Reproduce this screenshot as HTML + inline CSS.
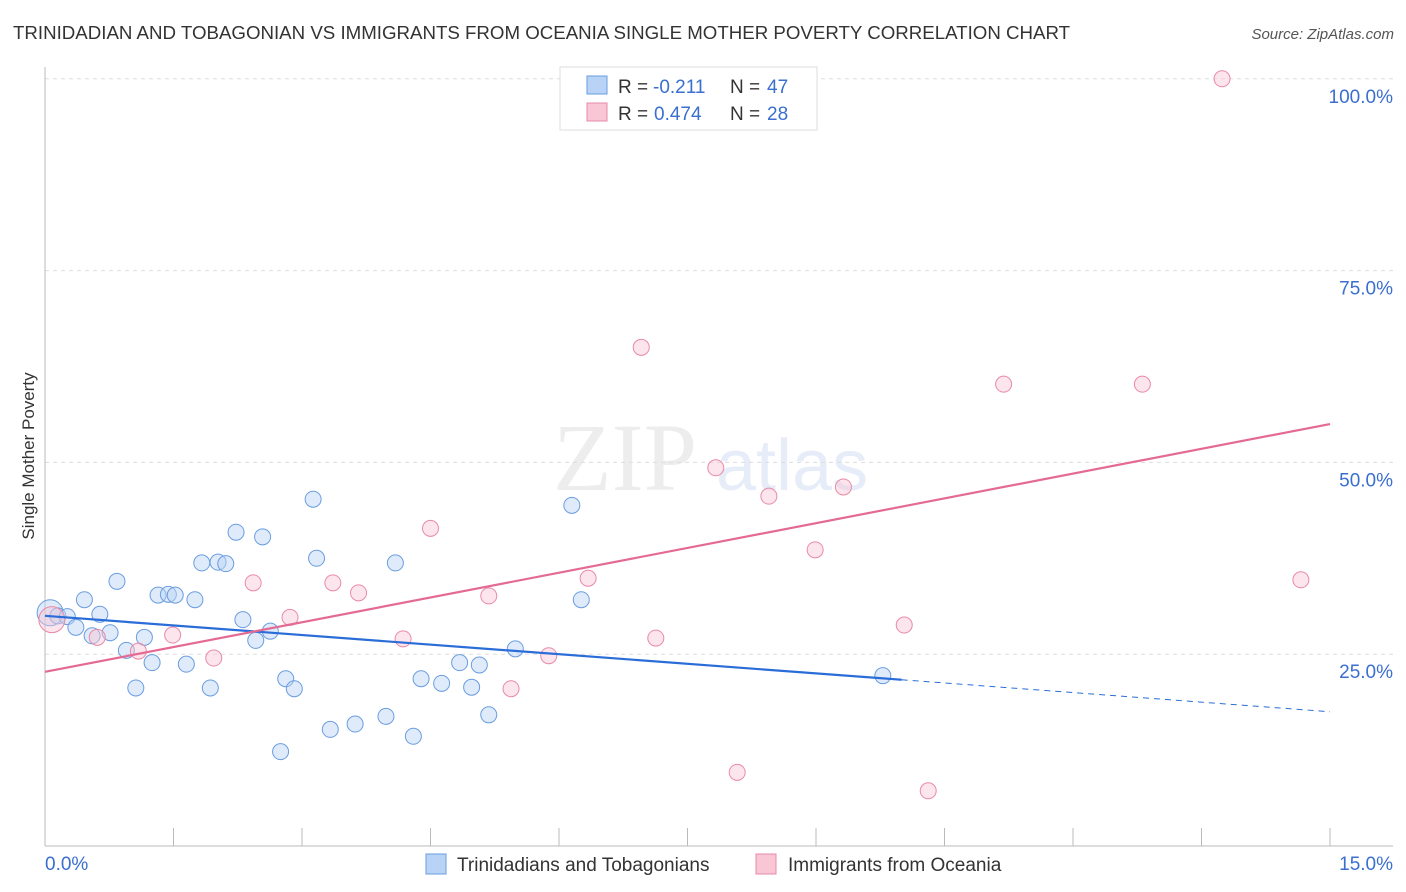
<!DOCTYPE html>
<html><head><meta charset="utf-8"><style>
body{margin:0;background:#fff;font-family:"Liberation Sans",sans-serif;}
svg{display:block}
</style></head><body>
<svg id="c" width="1406" height="892" viewBox="0 0 1406 892" xmlns="http://www.w3.org/2000/svg">
<text x="13" y="39" font-size="18.7" fill="#333">TRINIDADIAN AND TOBAGONIAN VS IMMIGRANTS FROM OCEANIA SINGLE MOTHER POVERTY CORRELATION CHART</text>
<text x="1394" y="39" font-size="15" fill="#555" text-anchor="end" font-style="italic">Source: ZipAtlas.com</text>
<g opacity="0.25">
<text x="553" y="490" font-size="96" font-family="Liberation Serif,serif" fill="#bbb">ZIP</text>
<text x="716" y="490" font-size="72" fill="#9dbbe8">atlas</text>
</g>
<g id="grid"></g>
<g id="axes"></g>
<g id="marks"></g>
<text transform="translate(34,456) rotate(-90)" font-size="17" fill="#333" text-anchor="middle">Single Mother Poverty</text>
<g>
<rect x="560" y="67" width="257" height="63" fill="#fff" stroke="#ddd"/>
<rect x="587" y="76" width="20" height="18" fill="#b8d3f5" stroke="#6a9de0"/>
<rect x="587" y="103" width="20" height="18" fill="#f9c6d5" stroke="#e88aa8"/>
<text x="618" y="93" font-size="19" fill="#333">R =</text>
<text x="653" y="93" font-size="19" fill="#3a6fd0">-0.211</text>
<text x="730" y="93" font-size="19" fill="#333">N =</text>
<text x="767" y="93" font-size="19" fill="#3a6fd0">47</text>
<text x="618" y="120" font-size="19" fill="#333">R =</text>
<text x="654" y="120" font-size="19" fill="#3a6fd0">0.474</text>
<text x="730" y="120" font-size="19" fill="#333">N =</text>
<text x="767" y="120" font-size="19" fill="#3a6fd0">28</text>
</g>
<g>
<rect x="426" y="854" width="20" height="20" fill="#b8d3f5" stroke="#6a9de0"/>
<text x="457" y="871" font-size="19" fill="#333">Trinidadians and Tobagonians</text>
<rect x="756" y="854" width="20" height="20" fill="#f9c6d5" stroke="#e88aa8"/>
<text x="788" y="871" font-size="19" fill="#333">Immigrants from Oceania</text>
</g>
</svg>
<script>
const xTicks=[0,1.5,3,4.5,6,7.5,9,10.5,12,13.5,15];
const yTicks=[25,50,75,100];
const yTickLabels=["25.0%","50.0%","75.0%","100.0%"];
const blueX=[0.06,0.15,0.26,0.36,0.46,0.55,0.64,0.76,0.84,0.95,1.06,1.16,1.25,1.32,1.44,1.52,1.65,1.75,1.83,1.93,2.02,2.11,2.23,2.31,2.46,2.54,2.63,2.81,2.75,2.91,3.13,3.17,3.33,3.62,3.98,4.09,4.30,4.39,4.63,4.84,4.98,5.07,5.18,5.49,6.15,6.26,9.78];
const blueY=[30.4,30.0,29.9,28.5,32.1,27.4,30.2,27.8,34.5,25.5,20.6,27.2,23.9,32.7,32.8,32.7,23.7,32.1,36.9,20.6,37.0,36.8,40.9,29.5,26.8,40.3,28.0,21.8,12.3,20.5,45.2,37.5,15.2,15.9,16.9,36.9,14.3,21.8,21.2,23.9,20.7,23.6,17.1,25.7,44.4,32.1,22.2];
const pinkX=[0.08,0.61,1.09,1.49,1.97,2.43,2.86,3.36,3.66,4.18,4.50,5.18,5.44,5.88,6.34,6.96,7.13,7.83,8.08,8.45,8.99,9.32,10.03,10.31,11.19,12.81,13.74,14.66];
const pinkY=[29.5,27.2,25.4,27.5,24.5,34.3,29.8,34.3,33.0,27.0,41.4,32.6,20.5,24.8,34.9,65.0,27.1,49.3,9.6,45.6,38.6,46.8,28.8,7.2,60.2,60.2,100.0,34.7];
const blueTrend=[30.0,17.5];
const blueSolidEnd=10.0;
const pinkTrend=[22.7,55.0];
const X=v=>45+v*(1285/15);
const Y=v=>846-v*7.672;
const NS="http://www.w3.org/2000/svg";
function mk(t,a,p){const e=document.createElementNS(NS,t);for(const k in a)e.setAttribute(k,a[k]);p.appendChild(e);return e;}
const grid=document.getElementById('grid'),axes=document.getElementById('axes'),marks=document.getElementById('marks');
yTicks.forEach((t,i)=>{
 const l=mk('line',{x1:45,x2:1393,y1:Y(t),y2:Y(t),stroke:'#ddd','stroke-dasharray':'4 4'},grid);
 
 
 const tx=mk('text',{x:1393,y:Y(t)+24,'font-size':19,fill:'#3a6fd0','text-anchor':'end'},axes);
 tx.textContent=yTickLabels[i];
 
 
});
let a=mk('line',{x1:45,x2:45,y1:67,y2:846,stroke:'#bbb'},axes);


a=mk('line',{x1:45,x2:1393,y1:846,y2:846,stroke:'#bbb'},axes);


xTicks.forEach(t=>{
 const l=mk('line',{x1:X(t),x2:X(t),y1:828,y2:846,stroke:'#bbb'},axes);
 
 
});
let t1=mk('text',{x:45,y:870,'font-size':19,fill:'#3a6fd0'},axes);t1.textContent='0.0%';


let t2=mk('text',{x:1393,y:870,'font-size':19,fill:'#3a6fd0','text-anchor':'end'},axes);t2.textContent='15.0%';


function pts(xs,ys,fill,stroke,name){xs.forEach((x,i)=>{
 const c=mk('circle',{cx:X(x),cy:Y(ys[i]),r:i===0?13:8,fill:fill,'fill-opacity':0.45,stroke:stroke,'stroke-width':1},marks);
 
 
});}
pts(blueX,blueY,'#b8d3f5','#6a9de0','blue-point');
pts(pinkX,pinkY,'#f9c6d5','#e88aa8','pink-point');
const by=x=>blueTrend[0]+(blueTrend[1]-blueTrend[0])*x/15;
let l=mk('line',{x1:X(0),y1:Y(by(0)),x2:X(blueSolidEnd),y2:Y(by(blueSolidEnd)),stroke:'#2a6dd8','stroke-width':2.2},marks);


l=mk('line',{x1:X(blueSolidEnd),y1:Y(by(blueSolidEnd)),x2:X(15),y2:Y(by(15)),stroke:'#2a6dd8','stroke-width':1,'stroke-dasharray':'6 5'},marks);


l=mk('line',{x1:X(0),y1:Y(pinkTrend[0]),x2:X(15),y2:Y(pinkTrend[1]),stroke:'#e46a94','stroke-width':2.2},marks);


</script>
</body></html>
